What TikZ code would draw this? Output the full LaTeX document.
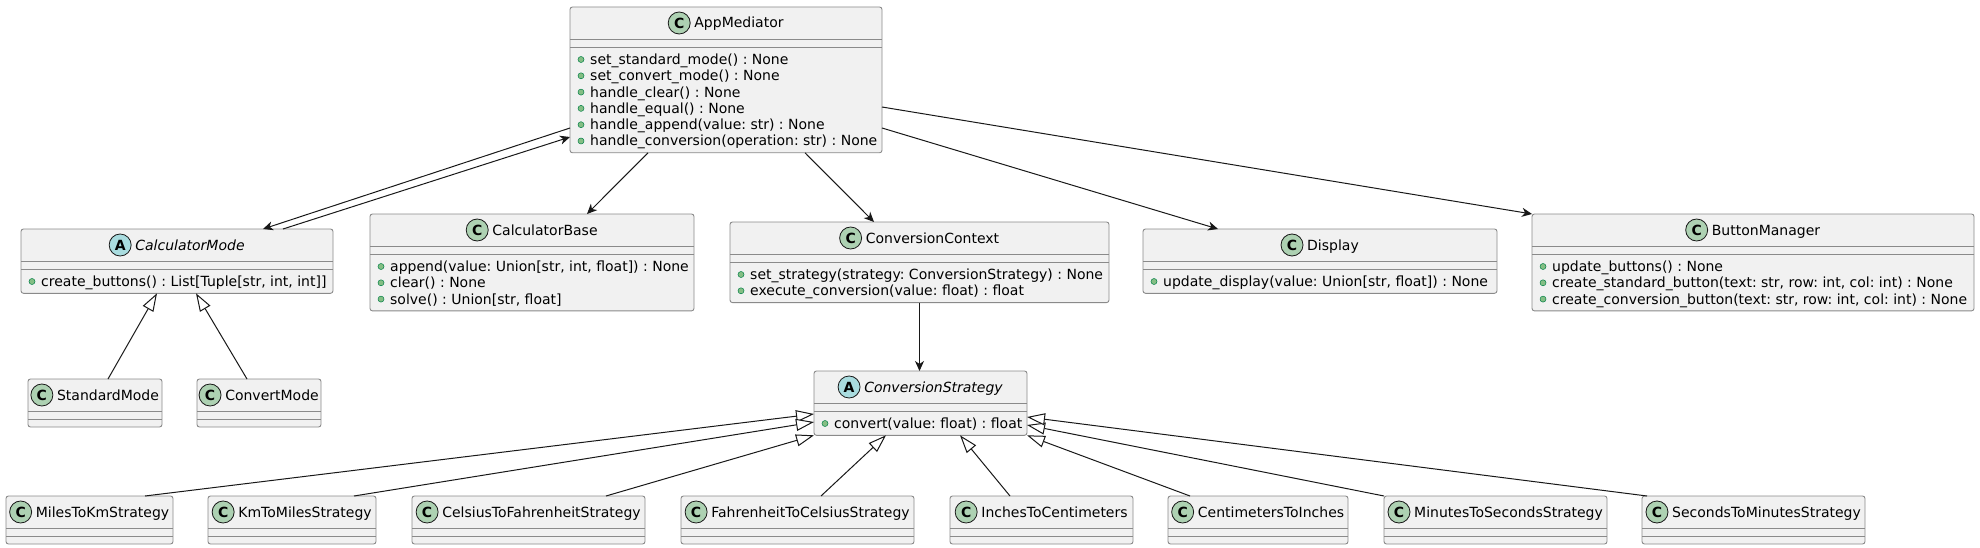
\documentclass[tikz,border=0pt]{standalone}
\usepackage{fontspec}
\setmainfont{DejaVu Sans}
\frenchspacing
\usetikzlibrary{arrows.meta}
\definecolor{boxfill}{HTML}{F1F1F1}
\definecolor{boxline}{HTML}{8A8A8A}
\definecolor{umlline}{HTML}{181818}
\definecolor{cbadge}{HTML}{ADD1B2}
\definecolor{abadge}{HTML}{A9DCDF}
\definecolor{dotfill}{HTML}{84BE84}
\definecolor{dotline}{HTML}{038048}
\tikzset{
  clsbox/.style={draw=boxline, fill=boxfill, line width=0.9pt, rounded corners=2.5pt, anchor=north west, inner sep=0pt, outer sep=0pt},
  sepline/.style={draw=boxline, line width=0.9pt},
  clsname/.style={inner sep=0pt, anchor=base, font=\fontsize{14}{16}\selectfont},
  badge/.style={circle, draw=umlline, line width=0.8pt, fill=#1, minimum size=22pt, inner sep=0pt, font=\fontsize{14}{16}\selectfont\bfseries},
  meth/.style={inner sep=0pt, anchor=base west, font=\fontsize{14}{16}\selectfont},
  pubdot/.style={circle, draw=dotline, fill=dotfill, line width=0.5pt, minimum size=6pt, inner sep=0pt},
  assoc/.style={draw=umlline, line width=1pt, -{Stealth[length=10pt,width=9pt,inset=3pt]}},
  inherit/.style={draw=umlline, line width=1pt, -{Triangle[length=18pt,width=12pt,fill=white]}},
}
\newcommand{\umlclass}[8]{%
  \pgfmathsetmacro{\boxh}{48+16.3*#5}
  \node[clsbox, minimum width=#4pt, minimum height=\boxh pt] (#1) at (#2,#3) {};
  \draw[sepline] ([yshift=-32pt]#1.north west) -- ([yshift=-32pt]#1.north east);
  \draw[sepline] ([yshift=-40pt]#1.north west) -- ([yshift=-40pt]#1.north east);
  \node[clsname] (#1-name) at ([xshift=13pt,yshift=-21pt]#1.north) {#8};
  \node[badge=#7] (#1-badge) at ([xshift=-15pt,yshift=5pt]#1-name.base west) {#6};
}
\newcommand{\umlmeth}[3]{%
  \node[pubdot] (#1-d#2) at ([xshift=11pt,yshift={-52.5pt-16.3pt*(#2-1)}]#1.north west) {};
  \node[meth] (#1-m#2) at ([xshift=20pt,yshift={-57.5pt-16.3pt*(#2-1)}]#1.north west) {#3};
}
\begin{document}
\begin{tikzpicture}[x=1pt,y=-1pt]
	\useasboundingbox (0,0) rectangle (1980,548);
	\umlclass{app}{570}{7}{312}{6}{C}{cbadge}{AppMediator}
	\foreach [count=\i] \m in {{set\_standard\_mode() : None},{set\_convert\_mode() : None},{handle\_clear() : None},{handle\_equal() : None},{handle\_append(value: str) : None},{handle\_conversion(operation: str) : None}}
		\umlmeth{app}{\i}{\m};
	\umlclass{cm}{21}{229}{312}{1}{A}{abadge}{\itshape CalculatorMode}
	\umlmeth{cm}{1}{create\_buttons() : List[Tuple[str, int, int]]}
	\umlclass{cb}{370}{214}{324}{3}{C}{cbadge}{CalculatorBase}
	\foreach [count=\i] \m in {{append(value: Union[str, int, float]) : None},{clear() : None},{solve() : Union[str, float]}}
		\umlmeth{cb}{\i}{\m};
	\umlclass{cc}{730}{222}{379}{2}{C}{cbadge}{ConversionContext}
	\umlmeth{cc}{1}{set\_strategy(strategy: ConversionStrategy) : None}
	\umlmeth{cc}{2}{execute\_conversion(value: float) : float}
	\umlclass{disp}{1143}{229}{354}{1}{C}{cbadge}{Display}
	\umlmeth{disp}{1}{update\_display(value: Union[str, float]) : None}
	\umlclass{bm}{1532}{214}{442}{3}{C}{cbadge}{ButtonManager}
	\foreach [count=\i] \m in {{update\_buttons() : None},{create\_standard\_button(text: str, row: int, col: int) : None},{create\_conversion\_button(text: str, row: int, col: int) : None}}
		\umlmeth{bm}{\i}{\m};
	\umlclass{sm}{28}{379}{134}{0}{C}{cbadge}{StandardMode}
	\umlclass{cvm}{197}{379}{124}{0}{C}{cbadge}{ConvertMode}
	\umlclass{cs}{814}{371}{213}{1}{A}{abadge}{\itshape ConversionStrategy}
	\umlmeth{cs}{1}{convert(value: float) : float}
	\umlclass{mk}{6}{496}{167}{0}{C}{cbadge}{MilesToKmStrategy}
	\umlclass{km}{208}{496}{168}{0}{C}{cbadge}{KmToMilesStrategy}
	\umlclass{c2f}{412}{496}{233}{0}{C}{cbadge}{CelsiusToFahrenheitStrategy}
	\umlclass{f2c}{681}{496}{233}{0}{C}{cbadge}{FahrenheitToCelsiusStrategy}
	\umlclass{i2c}{950}{496}{183}{0}{C}{cbadge}{InchesToCentimeters}
	\umlclass{c2i}{1168}{496}{180}{0}{C}{cbadge}{CentimetersToInches}
	\umlclass{m2s}{1384}{496}{223}{0}{C}{cbadge}{MinutesToSecondsStrategy}
	\umlclass{s2m}{1642}{496}{223}{0}{C}{cbadge}{SecondsToMinutesStrategy}
	\draw[assoc] ([yshift=-121pt]app.north west) -- ([xshift=242pt]cm.north west);
	\draw[assoc] ([xshift=262pt]cm.north west) -- ([yshift=-130pt]app.north west);
	\draw[assoc] ([xshift=78pt]app.south west) -- ([xshift=217pt]cb.north west);
	\draw[assoc] ([xshift=235pt]app.south west) -- ([xshift=144pt]cc.north west);
	\draw[assoc] ([yshift=-121pt]app.north east) -- ([xshift=75pt]disp.north west);
	\draw[assoc] ([yshift=-100pt]app.north east) -- (bm.north west);
	\draw[assoc] (cc.south) -- (cc.south |- cs.north);
	\draw[inherit] ([xshift=80pt]sm.north west) -- ([xshift=136pt]cm.south west);
	\draw[inherit] ([xshift=50pt]cvm.north west) -- ([xshift=175pt]cm.south west);
	\draw[inherit] ([xshift=139pt]mk.north west) -- ([yshift=-43pt]cs.north west);
	\draw[inherit] ([xshift=146pt]km.north west) -- ([yshift=-51pt]cs.north west);
	\draw[inherit] ([xshift=194pt]c2f.north west) -- (cs.south west);
	\draw[inherit] ([xshift=140pt]f2c.north west) -- ([xshift=72pt]cs.south west);
	\draw[inherit] ([xshift=60pt]i2c.north west) -- ([xshift=146pt]cs.south west);
	\draw[inherit] ([xshift=22pt]c2i.north west) -- (cs.south east);
	\draw[inherit] (m2s.north west) -- ([yshift=-54pt]cs.north east);
	\draw[inherit] ([xshift=5pt]s2m.north west) -- ([yshift=-46pt]cs.north east);
\end{tikzpicture}
\end{document}
